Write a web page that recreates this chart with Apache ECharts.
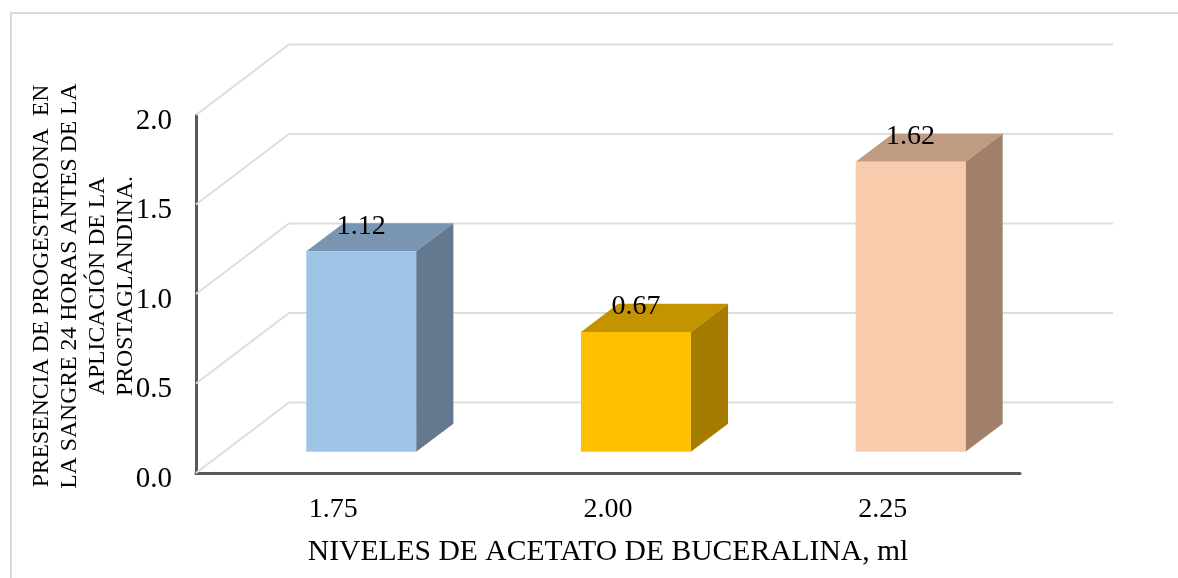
<!DOCTYPE html>
<html>
<head>
<meta charset="utf-8">
<style>html,body{margin:0;padding:0;background:#fff}#c{width:1178px;height:578px}</style>
<script src="https://cdn.jsdelivr.net/npm/echarts@6/dist/echarts.min.js"></script>
</head>
<body>
<div id="c"></div>
<script>
const categories = ["1.75", "2.00", "2.25"];
const values = [1.12, 0.67, 1.62];
const yTicks = [0, 0.5, 1.0, 1.5, 2.0];
const xTitle = "NIVELES DE ACETATO DE BUCERALINA, ml";
const yTitle = "PRESENCIA DE PROGESTERONA  EN\nLA SANGRE 24 HORAS ANTES DE LA\nAPLICACIÓN DE LA\nPROSTAGLANDINA.";
const frontColors = ["#9DC3E6", "#FFC000", "#F8CBAD"];
const topColors = ["#7A95B2", "#C49400", "#BF9B84"];
const sideColors = ["#64798F", "#A67C00", "#A1806A"];

const FONT = '"Liberation Serif","Times New Roman",serif';
const DEPTH_X = 93, DEPTH_Y = -70.5;      // 3D wall offset
const BAR_SHIFT = 0.30, BAR_DEPTH = 0.40; // position and depth of the bar in the wall depth
const BAR_W = 0.4;                        // share of a category band

const chart = echarts.init(document.getElementById('c'), null, {renderer: 'canvas'});

function wallItem(params, api) {
  const cs = params.coordSys;
  const y = api.coord([0, api.value(0)])[1];
  return {
    type: 'polyline',
    shape: {points: [[cs.x, y], [cs.x + DEPTH_X, y + DEPTH_Y], [cs.x + cs.width + DEPTH_X, y + DEPTH_Y]]},
    style: {stroke: '#DEDEDE', lineWidth: 2, fill: null}
  };
}

function barItem(params, api) {
  const i = api.value(0), v = api.value(1);
  const top = api.coord([i, v]);
  const base = api.coord([i, 0]);
  const w = api.size([1, 0])[0] * BAR_W;
  const sx = DEPTH_X * BAR_SHIFT, sy = DEPTH_Y * BAR_SHIFT;
  const dx = DEPTH_X * BAR_DEPTH, dy = DEPTH_Y * BAR_DEPTH;
  const l = top[0] + sx - w / 2, r = l + w;
  const t = top[1] + sy, b = base[1] + sy;
  return {
    type: 'group',
    children: [
      {type: 'polygon', shape: {points: [[l, t], [r, t], [r + dx, t + dy], [l + dx, t + dy]]}, style: {fill: topColors[i]}},
      {type: 'polygon', shape: {points: [[r, t], [r + dx, t + dy], [r + dx, b + dy], [r, b]]}, style: {fill: sideColors[i]}},
      {type: 'rect', shape: {x: l, y: t, width: w, height: b - t}, style: {fill: frontColors[i]}},
      {type: 'text', style: {x: top[0] + sx, y: t - 25, text: v.toFixed(2), fill: '#000', font: '28px ' + FONT, textAlign: 'center', textVerticalAlign: 'middle', align: 'center', verticalAlign: 'middle'}}
    ]
  };
}

chart.setOption({
  animation: false,
  backgroundColor: '#fff',
  grid: {left: 196, top: 115, width: 824, height: 358, containLabel: false, outerBoundsMode: 'none'},
  graphic: [{
    type: 'polyline', silent: true,
    shape: {points: [[11, 578], [11, 13], [1178, 13]]},
    style: {stroke: '#D9D9D9', lineWidth: 2, fill: null}
  }],
  xAxis: {
    type: 'category', data: categories,
    axisTick: {show: false},
    axisLine: {lineStyle: {color: '#595959', width: 3}},
    axisLabel: {color: '#000', fontFamily: FONT, fontSize: 28, margin: 23},
    name: xTitle, nameLocation: 'middle', nameGap: 64,
    nameTextStyle: {color: '#000', fontFamily: FONT, fontSize: 29.6}
  },
  yAxis: {
    type: 'value', min: 0, max: 2, interval: 0.5,
    splitLine: {show: false}, axisTick: {show: false},
    axisLine: {show: true, lineStyle: {color: '#595959', width: 3}},
    axisLabel: {color: '#000', fontFamily: FONT, fontSize: 29, margin: 24, verticalAlign: 'top', lineHeight: 12, formatter: v => v.toFixed(1)},
    name: yTitle, nameLocation: 'middle', nameGap: 56, nameRotate: 90, nameMoveOverlap: false,
    nameTextStyle: {color: '#000', fontFamily: FONT, fontSize: 23.7, lineHeight: 28, align: 'center', padding: [0, 0, 0, 16]}
  },
  series: [
    {type: 'custom', coordinateSystem: 'cartesian2d', clip: false, z: 1, silent: true,
     encode: {y: 0}, data: yTicks.map(v => [v]), renderItem: wallItem},
    {type: 'custom', coordinateSystem: 'cartesian2d', clip: false, z: 2, silent: true,
     encode: {x: 0, y: 1}, data: values.map((v, i) => [i, v]), renderItem: barItem}
  ]
});
</script>
</body>
</html>
